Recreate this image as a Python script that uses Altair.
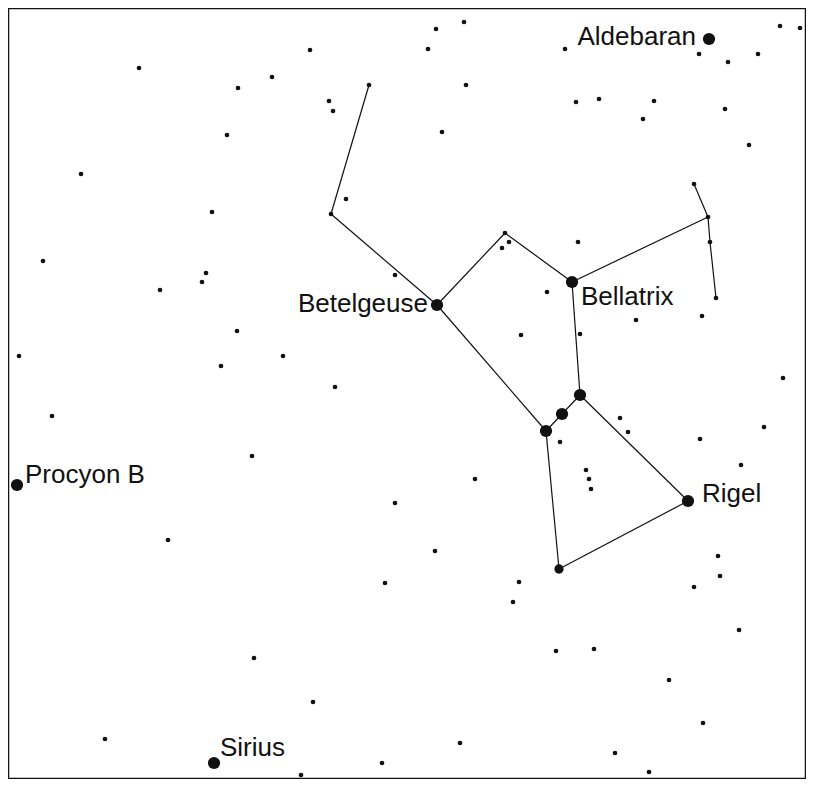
import altair as alt
import pandas as pd

# ---- Data: star positions (chart units ~ pixels) ----
small_x = [309, 138, 271, 237, 368, 328, 332, 226, 80, 211, 345, 330, 42, 205, 201, 159,
           394, 236, 18, 282, 220, 334,
           435, 463, 427, 564, 779, 799, 698, 727, 757, 465, 575, 598, 653, 642, 724, 441,
           748, 693, 707, 709, 715, 504, 508, 501, 577, 546, 635, 701, 520, 579, 782,
           51, 251, 394, 167, 384, 253, 312, 104, 300, 381,
           619, 627, 559, 763, 699, 740, 474, 585, 588, 590, 434, 717, 719, 693, 518, 512,
           738, 555, 593, 668, 702, 459, 614, 648]
small_y = [50, 68, 77, 88, 85, 101, 111, 135, 174, 212, 199, 214, 261, 273, 282, 290,
           275, 331, 356, 356, 366, 387,
           29, 22, 49, 49, 26, 28, 54, 62, 54, 85, 102, 99, 101, 119, 109, 132,
           145, 184, 217, 242, 298, 233, 242, 248, 242, 292, 320, 316, 335, 334, 378,
           416, 456, 503, 540, 583, 658, 702, 739, 775, 763,
           418, 432, 442, 427, 439, 465, 479, 470, 479, 489, 551, 556, 576, 587, 582, 602,
           630, 651, 649, 680, 723, 743, 753, 772]

bright_names = ["Aldebaran", "Betelgeuse", "Bellatrix", "Mintaka", "Alnilam", "Alnitak",
                "Rigel", "Saiph", "Procyon B", "Sirius"]
bright_x = [708, 436, 571, 579, 561, 545, 687, 558, 16, 213]
bright_y = [39, 305, 282, 395, 414, 431, 501, 569, 485, 763]
bright_class = ["big", "big", "big", "big", "big", "big", "big", "medium", "big", "big"]

# constellation line segments (from, to) as coordinates
seg_x1 = [368, 330, 436, 504, 571, 707, 707, 709, 571, 436, 579, 561, 579, 687, 558]
seg_y1 = [85, 214, 305, 233, 282, 217, 217, 242, 282, 305, 395, 414, 395, 501, 569]
seg_x2 = [330, 436, 504, 571, 707, 693, 709, 715, 579, 545, 561, 545, 687, 558, 545]
seg_y2 = [214, 305, 233, 282, 217, 184, 242, 298, 395, 431, 414, 431, 501, 569, 431]

labels = ["Aldebaran", "Betelgeuse", "Bellatrix", "Rigel", "Procyon B", "Sirius"]

# ---- Build tables ----
stars = pd.DataFrame({"x": small_x, "y": small_y, "cls": "small"})
bright = pd.DataFrame({"name": bright_names, "x": bright_x, "y": bright_y, "cls": bright_class})
allstars = pd.concat([stars, bright[["x", "y", "cls"]]], ignore_index=True)
segs = pd.DataFrame({"x": seg_x1, "y": seg_y1, "x2": seg_x2, "y2": seg_y2})

W, H = 798, 771
xs = alt.Scale(domain=[7, 7 + W], nice=False, zero=False)
ys = alt.Scale(domain=[8, 8 + H], nice=False, zero=False, reverse=True)

X = alt.X("x:Q", scale=xs, axis=None)
Y = alt.Y("y:Q", scale=ys, axis=None)

lines = alt.Chart(segs).mark_rule(color="#111111", strokeWidth=1.2).encode(
    x=X, y=Y, x2="x2:Q", y2="y2:Q"
)

points = alt.Chart(allstars).mark_circle(color="#111111", opacity=1).encode(
    x=X, y=Y,
    size=alt.Size("cls:N", scale=alt.Scale(domain=["small", "medium", "big"],
                                           range=[22, 150, 240]), legend=None),
)

# label styling: (align, dx, dy)
label_style = {
    "Aldebaran": ("right", -13, 6),
    "Betelgeuse": ("right", -9, 7),
    "Bellatrix": ("left", 9, 23),
    "Rigel": ("left", 14, 1),
    "Procyon B": ("left", 8, -2),
    "Sirius": ("left", 6, -7),
}

texts = []
for name in labels:
    al, dx, dy = label_style[name]
    texts.append(
        alt.Chart(bright[bright["name"] == name]).mark_text(
            align=al, baseline="alphabetic", dx=dx, dy=dy,
            font="Liberation Sans", fontSize=26, color="#111111"
        ).encode(x=X, y=Y, text="name:N")
    )

chart = alt.layer(lines, points, *texts).properties(
    width=W, height=H
).configure(padding=0).configure_view(stroke="#111111", strokeWidth=2.5)

chart.save("out.html", embed_options={"renderer": "svg", "actions": False})
